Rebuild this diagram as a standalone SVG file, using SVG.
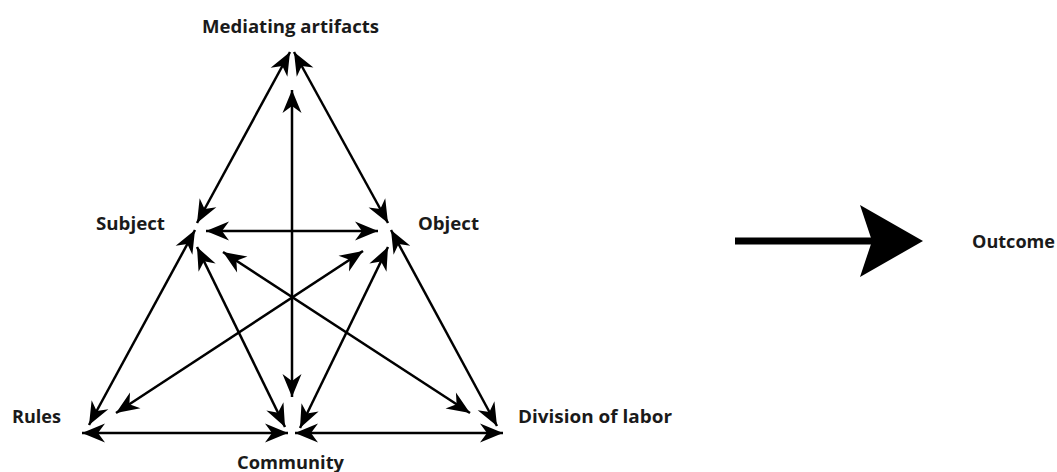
<svg xmlns="http://www.w3.org/2000/svg" width="1057" height="472" viewBox="0 0 1057 472">
<defs>
<style>
.lbl{font-family:"Open Sans","Liberation Sans",sans-serif;font-weight:bold;font-size:18px;fill:#1a1a1a}
.edge{stroke:#000;stroke-width:2.5;fill:none;marker-start:url(#ah);marker-end:url(#ah)}
</style>
<marker id="ah" markerUnits="userSpaceOnUse" viewBox="-24 -11 26 22" refX="0" refY="0" markerWidth="26" markerHeight="22" orient="auto-start-reverse">
<path d="M0,0 L-23,-9.5 L-16,0 L-23,9.5 Z" fill="#000"/>
</marker>
</defs>
<rect width="1057" height="472" fill="#fff"/>
<g id="connectors">
<line class="edge" x1="197" y1="223" x2="290" y2="52"/>
<line class="edge" x1="388" y1="223" x2="294" y2="52"/>
<line class="edge" x1="292" y1="397" x2="292" y2="90"/>
<line class="edge" x1="206" y1="231" x2="378" y2="231"/>
<line class="edge" x1="195" y1="230" x2="89" y2="425"/>
<line class="edge" x1="197" y1="247" x2="285" y2="427"/>
<line class="edge" x1="223" y1="252" x2="470" y2="413"/>
<line class="edge" x1="363" y1="251" x2="116" y2="413"/>
<line class="edge" x1="388" y1="247" x2="300" y2="428"/>
<line class="edge" x1="391" y1="230" x2="497" y2="426"/>
<line class="edge" x1="82" y1="433" x2="288" y2="433"/>
<line class="edge" x1="295" y1="433" x2="503" y2="433"/>
</g>
<g id="outcome-arrow">
<rect x="735" y="237.5" width="140" height="7" fill="#000"/>
<polygon points="860,205 923,241 860,277 872,241" fill="#000"/>
</g>
<g id="node-mediating"><text class="lbl" x="202" y="33" textLength="177" lengthAdjust="spacingAndGlyphs">Mediating artifacts</text></g>
<g id="node-subject"><text class="lbl" x="96" y="230" textLength="69" lengthAdjust="spacingAndGlyphs">Subject</text></g>
<g id="node-object"><text class="lbl" x="418" y="230" textLength="61" lengthAdjust="spacingAndGlyphs">Object</text></g>
<g id="node-rules"><text class="lbl" x="12" y="423" textLength="49" lengthAdjust="spacingAndGlyphs">Rules</text></g>
<g id="node-community"><text class="lbl" x="237" y="469" textLength="107" lengthAdjust="spacingAndGlyphs">Community</text></g>
<g id="node-division"><text class="lbl" x="518" y="423" textLength="154" lengthAdjust="spacingAndGlyphs">Division of labor</text></g>
<g id="node-outcome"><text class="lbl" x="972" y="248" textLength="83" lengthAdjust="spacingAndGlyphs">Outcome</text></g>
</svg>
